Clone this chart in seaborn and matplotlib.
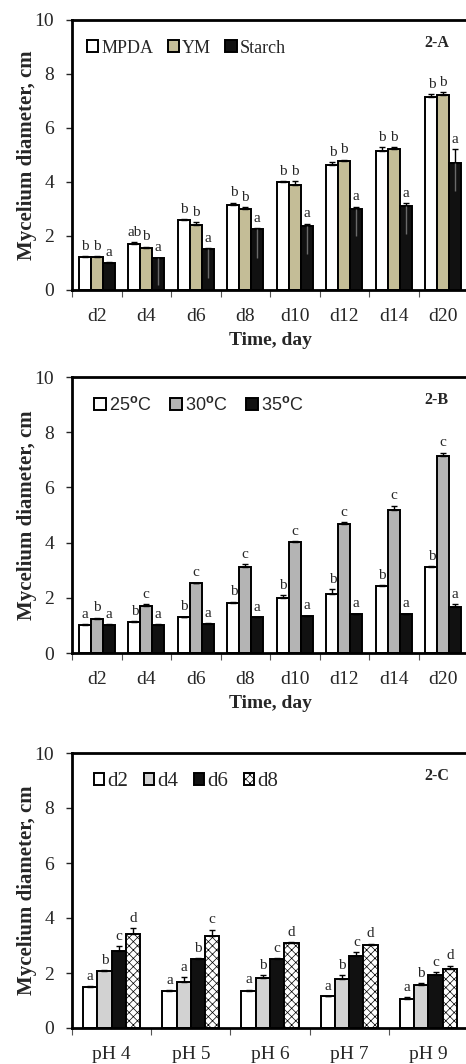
import matplotlib
matplotlib.use('Agg')
import matplotlib.pyplot as plt
import seaborn as sns
import pandas as pd

# ---- panel 2-A : culture media ----
days = ['d2', 'd4', 'd6', 'd8', 'd10', 'd12', 'd14', 'd20']
media = ['MPDA', 'YM', 'Starch']
mpda = [1.22, 1.72, 2.58, 3.14, 3.99, 4.64, 5.15, 7.16]
ym = [1.22, 1.56, 2.42, 3.01, 3.90, 4.78, 5.21, 7.23]
starch = [1.01, 1.17, 1.53, 2.25, 2.36, 2.99, 3.11, 4.69]
mpda_err = [0.04, 0.05, 0.04, 0.10, 0.05, 0.10, 0.14, 0.10]
ym_err = [0.04, 0.05, 0.10, 0.05, 0.14, 0.05, 0.08, 0.10]
starch_err = [0.03, 0.03, 0.03, 0.03, 0.10, 0.10, 0.10, 0.54]
starch_err_low = [0.0, 1.0, 1.07, 1.05, 1.04, 1.0, 1.05, 1.02]
letters_mpda = ['b', 'ab', 'b', 'b', 'b', 'b', 'b', 'b']
letters_ym = ['b', 'b', 'b', 'b', 'b', 'b', 'b', 'b']
letters_starch = ['a'] * 8

# ---- panel 2-B : temperature ----
temps = ['25$^\\mathbf{o}$C', '30$^\\mathbf{o}$C', '35$^\\mathbf{o}$C']
t25 = [1.02, 1.14, 1.30, 1.81, 2.01, 2.13, 2.43, 3.10]
t30 = [1.24, 1.72, 2.53, 3.11, 4.01, 4.66, 5.18, 7.13]
t35 = [1.02, 1.02, 1.06, 1.29, 1.33, 1.41, 1.41, 1.65]
t25_err = [0.02, 0.02, 0.02, 0.05, 0.08, 0.19, 0.03, 0.04]
t30_err = [0.04, 0.04, 0.02, 0.12, 0.04, 0.09, 0.16, 0.13]
t35_err = [0.02, 0.02, 0.02, 0.02, 0.02, 0.02, 0.02, 0.12]
letters_t25 = ['a', 'b', 'b', 'b', 'b', 'b', 'b', 'b']
letters_t30 = ['b', 'c', 'c', 'c', 'c', 'c', 'c', 'c']
letters_t35 = ['a'] * 8

# ---- panel 2-C : pH ----
ph = ['pH 4', 'pH 5', 'pH 6', 'pH 7', 'pH 9']
ph_days = ['d2', 'd4', 'd6', 'd8']
ph_d2 = [1.49, 1.36, 1.36, 1.15, 1.07]
ph_d4 = [2.06, 1.67, 1.82, 1.78, 1.58]
ph_d6 = [2.79, 2.51, 2.51, 2.63, 1.92]
ph_d8 = [3.43, 3.36, 3.09, 3.03, 2.15]
ph_d2_err = [0.04, 0.02, 0.04, 0.02, 0.04]
ph_d4_err = [0.04, 0.18, 0.10, 0.15, 0.04]
ph_d6_err = [0.18, 0.04, 0.04, 0.12, 0.10]
ph_d8_err = [0.20, 0.22, 0.04, 0.04, 0.12]
letters_ph = [['a'] * 5, ['b', 'a', 'b', 'b', 'b'],
              ['c', 'b', 'c', 'c', 'c'], ['d', 'c', 'd', 'd', 'd']]

serif = 'Liberation Serif'
sns.set_style('white')
plt.rcParams['font.family'] = [serif, 'DejaVu Serif']
plt.rcParams['mathtext.fontset'] = 'custom'
plt.rcParams['mathtext.bf'] = 'Liberation Sans:bold'
plt.rcParams['hatch.linewidth'] = 0.5

W, H = 466, 1064
fig = plt.figure(figsize=(W / 100, H / 100), dpi=100)


def make_axes(top_px, bottom_px):
    left = 72 / W
    right = 468 / W
    return fig.add_axes([left, 1 - bottom_px / H, right - left, (bottom_px - top_px) / H])


def draw_panel(ax, cats, series, values, errs, letters, colors, tag,
               leg_font, leg_pos, leg_kw, xlabel, low_errs=None, hatch_last=False):
    rows = []
    for s, vals in zip(series, values):
        for c, v in zip(cats, vals):
            rows.append({'cat': c, 'series': s, 'value': v})
    df = pd.DataFrame(rows)
    sns.barplot(data=df, x='cat', y='value', hue='series', order=cats,
                hue_order=series, palette=colors, edgecolor='black',
                linewidth=1.4, width=0.72, errorbar=None, legend=False,
                saturation=1, ax=ax)
    bar_conts = list(ax.containers)
    for k, cont in enumerate(bar_conts):
        xs = [p.get_x() + p.get_width() / 2 for p in cont.patches]
        if hatch_last and k == len(bar_conts) - 1:
            for p in cont.patches:
                p.set_hatch('xxxx')
        ax.errorbar(xs, values[k], yerr=[[0] * len(xs), errs[k]], fmt='none',
                    ecolor='black', elinewidth=1, capsize=2.2, capthick=1, zorder=3)
        if low_errs is not None and low_errs[k] is not None:
            lo = [v - e for v, e in zip(values[k], low_errs[k])]
            ax.vlines(xs, lo, values[k], color='#6a6a6a', lw=1, zorder=3)
        for x, v, e, t in zip(xs, values[k], errs[k], letters[k]):
            ax.text(x, v + e + 0.12, t, ha='center', va='bottom', fontsize=11)

    ax.set_ylim(0, 10)
    ax.set_xlim(-0.5, len(cats) - 0.5)
    ax.set_yticks(range(0, 11, 2))
    ax.tick_params(axis='y', labelsize=14, length=4, width=1, direction='out',
                   left=True, pad=9)
    ax.set_xticks(range(len(cats)))
    ax.set_xticklabels(cats)
    ax.set_xticks([i - 0.5 for i in range(len(cats) + 1)], minor=True)
    ax.tick_params(axis='x', which='major', length=0, labelsize=14, pad=13)
    ax.tick_params(axis='x', which='minor', length=5, width=0.8,
                   direction='out', bottom=True, color='#555555')
    for sp in ['top', 'left', 'bottom', 'right']:
        ax.spines[sp].set_linewidth(2)
        ax.spines[sp].set_color('black')
    ax.set_ylabel('Mycelium diameter, cm', fontsize=15, fontweight='bold', labelpad=-2)
    ax.set_xlabel(xlabel, fontsize=14, fontweight='bold', labelpad=5)

    handles = [cont.patches[0] for cont in bar_conts]
    ax.legend(handles, series, loc='center left', bbox_to_anchor=leg_pos,
              ncol=len(series), frameon=False, prop=leg_font, borderpad=0,
              handletextpad=0.15, borderaxespad=0, **leg_kw)
    ax.text(0.92, 0.915, tag, transform=ax.transAxes, ha='center', va='center',
            fontsize=11.5, fontweight='bold')


axA = make_axes(20, 290)
draw_panel(axA, days, media, [mpda, ym, starch],
           [mpda_err, ym_err, starch_err],
           [letters_mpda, letters_ym, letters_starch],
           ['white', '#c4bd97', '#111111'], '2-A',
           {'family': serif, 'size': 13}, (0.037, 0.896),
           dict(handlelength=0.65, handleheight=0.65, columnspacing=0.8),
           'Time, day', low_errs=[None, None, starch_err_low])

axB = make_axes(377, 653)
draw_panel(axB, days, temps, [t25, t30, t35],
           [t25_err, t30_err, t35_err],
           [letters_t25, letters_t30, letters_t35],
           ['white', '#b4b4b4', '#111111'], '2-B',
           {'family': 'Liberation Sans', 'size': 13}, (0.055, 0.898),
           dict(handlelength=0.7, handleheight=0.7, columnspacing=1.0),
           'Time, day')

axC = make_axes(753, 1028)
draw_panel(axC, ph, ph_days, [ph_d2, ph_d4, ph_d6, ph_d8],
           [ph_d2_err, ph_d4_err, ph_d6_err, ph_d8_err],
           letters_ph,
           ['white', '#d2d2d2', '#111111', 'white'], '2-C',
           {'family': serif, 'size': 15}, (0.055, 0.895),
           dict(handlelength=0.5, handleheight=0.5, columnspacing=0.75),
           '', hatch_last=True)

fig.savefig('out.png', dpi=100)
